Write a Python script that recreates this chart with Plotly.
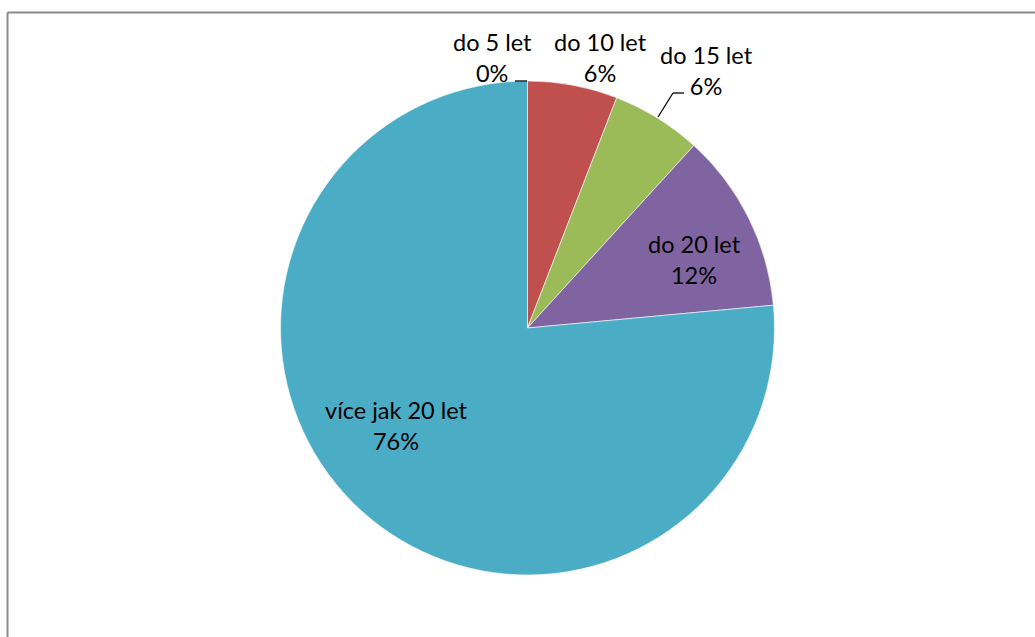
import plotly.graph_objects as go

# Délka praxe – počet respondentů v každé kategorii
categories = ["do 5 let", "do 10 let", "do 15 let", "do 20 let", "více jak 20 let"]
counts = [0, 1, 1, 2, 13]
colors = ["#F79646", "#C0504D", "#9BBB59", "#8064A2", "#4BACC6"]

W, H = 1035, 637
total = sum(counts)
pct_text = [f"{round(100 * c / total)}%" for c in counts]


def px(x):
    return x / W


def py(y):
    return 1 - y / H


fig = go.Figure(
    go.Pie(
        labels=categories,
        values=counts,
        sort=False,
        direction="clockwise",
        rotation=0,
        marker=dict(colors=colors, line=dict(color="white", width=0.6)),
        textinfo="none",
        hoverinfo="label+percent",
        showlegend=False,
        domain=dict(x=[px(280), px(775)], y=[py(575), py(81)]),
    )
)

# data label positions (pixel centres of each two-line label)
label_pos = [(492, 57), (600, 57), (706, 71), (694, 259), (396, 425)]
for cat, pct, (lx, ly) in zip(categories, pct_text, label_pos):
    fig.add_annotation(
        x=px(lx), y=py(ly), xref="paper", yref="paper",
        text=f"{cat}<br>{pct}", showarrow=False,
        xanchor="center", yanchor="middle", align="center",
        font=dict(family="Lato, Open Sans, sans-serif", size=23.5, color="#000000"),
    )

# leader lines
leaders = [
    [(515, 81), (527, 81)],
    [(658, 117), (673, 93), (684, 93)],
]
for pts in leaders:
    for (x0, y0), (x1, y1) in zip(pts[:-1], pts[1:]):
        fig.add_shape(type="line", xref="paper", yref="paper",
                      x0=px(x0), y0=py(y0), x1=px(x1), y1=py(y1),
                      line=dict(color="#000000", width=1.3))

# chart area frame
fig.add_shape(type="line", xref="paper", yref="paper",
              x0=px(7.5), y0=py(12.5), x1=px(1040), y1=py(12.5),
              line=dict(color="#8a8a8a", width=2))
fig.add_shape(type="line", xref="paper", yref="paper",
              x0=px(7.5), y0=py(12.5), x1=px(7.5), y1=py(645),
              line=dict(color="#8a8a8a", width=2))

fig.update_layout(
    width=W, height=H,
    margin=dict(l=0, r=0, t=0, b=0),
    paper_bgcolor="white",
    plot_bgcolor="white",
)

fig.write_html("out.html")
